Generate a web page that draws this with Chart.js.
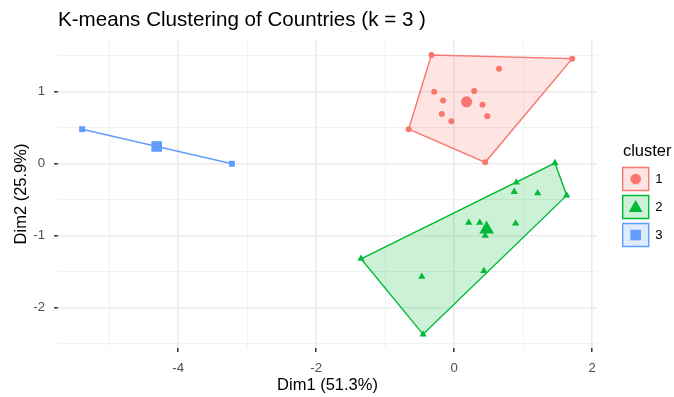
<!DOCTYPE html>
<html><head><meta charset="utf-8">
<script src="https://cdn.jsdelivr.net/npm/chart.js@4.4.0/dist/chart.umd.min.js"></script>
<style>html,body{margin:0;padding:0;background:#fff;}</style>
</head><body>
<canvas id="c" width="674" height="397" style="width:674px;height:397px;display:block"></canvas>
<script>
// ---- data ----
const clusterNames = ['1', '2', '3'];
const cluster1X = [-0.33, 1.71, 0.65, -0.29, 0.29, -0.16, 0.41, -0.18, 0.48, -0.04, -0.66, 0.45];
const cluster1Y = [1.51, 1.46, 1.32, 1.00, 1.01, 0.88, 0.82, 0.69, 0.66, 0.59, 0.48, 0.02];
const cluster2X = [1.46, 0.90, 0.87, 1.21, 1.63, 0.21, 0.37, 0.89, 0.45, -1.35, -0.47, 0.43, -0.45];
const cluster2Y = [0.01, -0.26, -0.39, -0.41, -0.44, -0.82, -0.82, -0.83, -1.00, -1.32, -1.57, -1.49, -2.37];
const cluster3X = [-5.39, -3.22];
const cluster3Y = [0.48, 0.00];
const centroidX = [0.18, 0.47, -4.31];
const centroidY = [0.86, -0.91, 0.24];
const xTickLabels = [-4, -2, 0, 2];
const yTickLabels = [-2, -1, 0, 1];

const colors = ['#F8766D', '#00BA38', '#619CFF'];
const fills = ['rgba(248,118,109,0.2)', 'rgba(0,186,56,0.2)', 'rgba(97,156,255,0.2)'];
const shapes = ['circle', 'triangle', 'rect'];
const pointR = [3, 4.2, 4.2];
const centerR = [5.6, 8.5, 7.5];
const legendR = [5.3, 8, 7.5];

const FONT = "'Liberation Sans', Arial, sans-serif";
Chart.defaults.font.family = FONT;

function toPoints(xs, ys) { return xs.map((x, i) => ({x: x, y: ys[i]})); }
function hull(xs, ys) {
  const p = toPoints(xs, ys).sort((a, b) => a.x - b.x || a.y - b.y);
  const cross = (o, a, b) => (a.x - o.x) * (b.y - o.y) - (a.y - o.y) * (b.x - o.x);
  const lower = [];
  for (const q of p) { while (lower.length >= 2 && cross(lower[lower.length - 2], lower[lower.length - 1], q) <= 0) lower.pop(); lower.push(q); }
  const upper = [];
  for (let i = p.length - 1; i >= 0; i--) { const q = p[i]; while (upper.length >= 2 && cross(upper[upper.length - 2], upper[upper.length - 1], q) <= 0) upper.pop(); upper.push(q); }
  upper.pop(); lower.pop();
  const h = lower.concat(upper); h.push(h[0]); return h;
}

const clusterX = [cluster1X, cluster2X, cluster3X];
const clusterY = [cluster1Y, cluster2Y, cluster3Y];
const datasets = [];
clusterNames.forEach((n, i) => {
  datasets.push({label: 'hull' + n, data: hull(clusterX[i], clusterY[i]), showLine: true, fill: 'shape',
    backgroundColor: fills[i], borderColor: colors[i], borderWidth: 1.4, pointRadius: 0, tension: 0, order: 10});
});
clusterNames.forEach((n, i) => {
  datasets.push({label: 'pts' + n, data: toPoints(clusterX[i], clusterY[i]), showLine: false,
    pointStyle: shapes[i], pointRadius: pointR[i], backgroundColor: colors[i], borderColor: colors[i], borderWidth: 0, order: 2});
  datasets.push({label: 'ctr' + n, data: [{x: centroidX[i], y: centroidY[i]}], showLine: false,
    pointStyle: shapes[i], pointRadius: centerR[i], backgroundColor: colors[i], borderColor: colors[i], borderWidth: 0, order: 1});
});

const legendPlace = {
  id: 'legendPlace',
  afterLayout(chart) {
    const lg = chart.legend;
    lg.left = 617.7; lg.width = 59; lg.right = lg.left + lg.width;
    lg.top = 142.75; lg.bottom = 262; lg.height = lg.bottom - lg.top;
  },
  afterDraw(chart) {
    const lg = chart.legend, ctx = chart.ctx;
    const o = lg.options.labels;
    const titleH = lg._computeTitleHeight();
    for (let i = 0; i < clusterNames.length; i++) {
      const bx = lg.left + o.padding, by = lg.top + titleH + o.padding + i * (o.boxHeight + o.padding);
      ctx.save();
      ctx.fillStyle = colors[i];
      Chart.helpers.drawPoint(ctx, {pointStyle: shapes[i], radius: legendR[i], borderWidth: 0, rotation: 0},
        bx + o.boxWidth / 2, by + o.boxHeight / 2 + (i === 1 ? 1 : 0));
      ctx.restore();
    }
  }
};

const isMajorX = v => xTickLabels.includes(v);
const isMajorY = v => yTickLabels.includes(v);

new Chart(document.getElementById('c'), {
  type: 'scatter',
  data: {datasets: datasets},
  options: {
    responsive: false, animation: false, devicePixelRatio: 1, events: [],
    layout: {padding: {left: 8, right: 22, top: 4.24, bottom: 2}},
    scales: {
      x: {
        type: 'linear', min: -5.74, max: 2.07,
        afterFit: s => { s.height = 47; },
        border: {display: false},
        grid: {
          color: c => isMajorX(c.tick.value) ? '#EBEBEB' : '#F1F1F1',
          lineWidth: c => isMajorX(c.tick.value) ? 1.6 : 1,
          tickLength: 4, tickWidth: 1.5,
          tickColor: c => isMajorX(c.tick.value) ? '#333333' : 'rgba(0,0,0,0)'
        },
        ticks: {stepSize: 1, includeBounds: false, autoSkip: false, maxRotation: 0, padding: 8,
          color: '#4D4D4D', font: {size: 13.2},
          callback: v => isMajorX(v) ? String(v) : ''},
        title: {display: true, text: 'Dim1 (51.3%)', color: '#000', font: {size: 16.5}, padding: {top: 0, bottom: 0}}
      },
      y: {
        type: 'linear', min: -2.56, max: 1.72,
        afterFit: s => { s.width = 50; },
        border: {display: false},
        grid: {
          color: c => isMajorY(c.tick.value) ? '#EBEBEB' : '#F1F1F1',
          lineWidth: c => isMajorY(c.tick.value) ? 1.6 : 1,
          tickLength: 4, tickWidth: 1.5,
          tickColor: c => isMajorY(c.tick.value) ? '#333333' : 'rgba(0,0,0,0)'
        },
        ticks: {stepSize: 0.5, includeBounds: false, autoSkip: false, padding: 9,
          color: '#4D4D4D', font: {size: 13.2},
          callback: v => isMajorY(v) ? String(v) : ''},
        title: {display: true, text: 'Dim2 (25.9%)', color: '#000', font: {size: 16.5}, padding: {top: 3.6, bottom: 0}}
      }
    },
    plugins: {
      tooltip: {enabled: false},
      title: {display: true, text: 'K-means Clustering of Countries (k = 3 )', align: 'start', fullSize: false,
        color: '#000', font: {size: 20.6, weight: 'normal'}, padding: {top: 4, bottom: 7}},
      legend: {
        display: true, position: 'right', align: 'start', onClick: null,
        title: {display: true, text: 'cluster', color: '#000', font: {size: 16.5}, padding: 0, position: 'center'},
        labels: {
          boxWidth: 26, boxHeight: 23, padding: 5, color: '#000', font: {size: 13.2},
          generateLabels: () => clusterNames.map((n, i) => ({text: n, fillStyle: fills[i], strokeStyle: colors[i],
            lineWidth: 1.4, hidden: false, datasetIndex: i, fontColor: '#000'}))
        }
      }
    }
  },
  plugins: [legendPlace]
});
</script>
</body></html>
